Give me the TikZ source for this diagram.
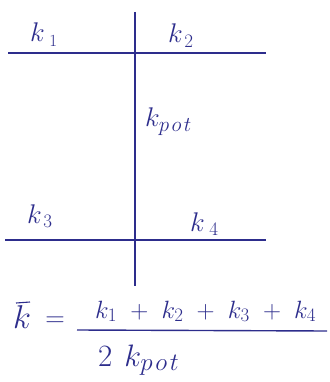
\RequirePackage{fix-cm}
\documentclass[tikz,border=0pt]{standalone}
\usepackage{xcolor}
\definecolor{ink}{RGB}{45,45,140}
\newcommand\subx[2]{_{\mbox{\fontsize{#1}{#1}\selectfont$#2$}}}
\newcommand\fs[1]{\fontsize{#1}{#1}\selectfont}
\begin{document}
\begin{tikzpicture}[x=1pt,y=-1pt,
  pen/.style={draw=ink,line width=1.4pt},
  lbl/.style={text=ink,font=\fs{27},inner sep=0pt,anchor=base west}]
\useasboundingbox (0,0) rectangle (329,382);
\coordinate (vt) at (135,12);
\coordinate (vb) at (135,286);
\coordinate (t1) at (8,53);
\coordinate (t2) at (266,53);
\coordinate (b1) at (5,240);
\coordinate (b2) at (266,240);
\draw[pen] (vt) -- (vb);
\draw[pen] (t1) -- (t2);
\draw[pen] (b1) -- (b2);
\node[lbl] (k1) at (30,42) {$k\mkern3mu\subx{17}{1}$};
\node[lbl] (k2) at (168,43) {$k\mkern1mu\subx{19}{2}$};
\node[lbl] (kp) at (145,127) {$k\subx{21}{p\mkern2mu o\mkern2mu t}$};
\node[lbl] (k3) at (27,223) {$k\mkern1mu\subx{19}{3}$};
\node[lbl] (k4) at (190,231) {$k\mkern3mu\subx{19}{4}$};
\node[lbl,font=\fs{33}] (kb) at (13,328) {$k$};
\coordinate (bar1) at (16,303);
\coordinate (bar2) at (30,302);
\draw[pen,line width=1.1pt] (bar1) -- (bar2);
\node[lbl,anchor=center] (eq) at (55,322) {$=$};
\node[lbl,font=\fs{25}] (num) at (95,318) {$\medmuskip=9.5mu k\subx{19}{1}+k\subx{19}{2}+k\subx{19}{3}+k\subx{19}{4}$};
\coordinate (f1) at (77,330);
\coordinate (f2) at (327,331);
\draw[pen] (f1) -- (f2);
\node[lbl,font=\fs{31}] (den) at (98,366) {$2\mkern7mu k\subx{25}{p\mkern2mu o\mkern2mu t}$};
\end{tikzpicture}
\end{document}
